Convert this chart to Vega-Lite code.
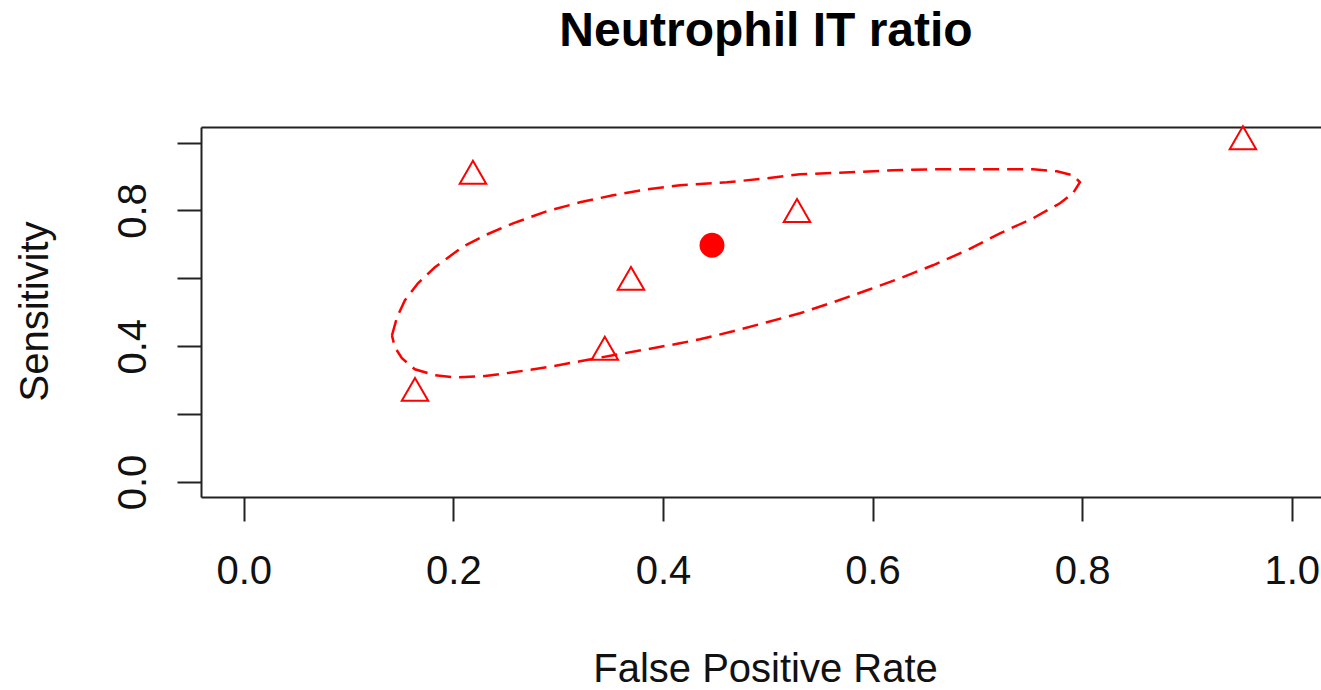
{
  "$schema": "https://vega.github.io/schema/vega-lite/v6.json",
  "width": 1120,
  "height": 370,
  "autosize": {"type": "none"},
  "padding": {"left": 201, "top": 127, "right": 0, "bottom": 193},
  "background": "white",
  "config": {
    "view": {"stroke": null},
    "font": "Liberation Sans",
    "axis": {"grid": false, "labelFont": "Liberation Sans", "titleFont": "Liberation Sans"}
  },
  "title": {
    "text": "Neutrophil IT ratio",
    "fontSize": 48,
    "fontWeight": "bold",
    "font": "Liberation Sans",
    "color": "#000000",
    "anchor": "middle",
    "frame": "group",
    "dx": 5,
    "baseline": "alphabetic",
    "offset": 28
  },
  "datasets": {
    "ellipse": [
      {"i": 1, "fpr": 0.1414, "sens": 0.4316},
      {"i": 2, "fpr": 0.1462, "sens": 0.4853},
      {"i": 3, "fpr": 0.1538, "sens": 0.5354},
      {"i": 4, "fpr": 0.1662, "sens": 0.5855},
      {"i": 5, "fpr": 0.1824, "sens": 0.6326},
      {"i": 6, "fpr": 0.2082, "sens": 0.6915},
      {"i": 7, "fpr": 0.2302, "sens": 0.7269},
      {"i": 8, "fpr": 0.2569, "sens": 0.7622},
      {"i": 9, "fpr": 0.2893, "sens": 0.7976},
      {"i": 10, "fpr": 0.3208, "sens": 0.8241},
      {"i": 11, "fpr": 0.3523, "sens": 0.8447},
      {"i": 12, "fpr": 0.3847, "sens": 0.8624},
      {"i": 13, "fpr": 0.4162, "sens": 0.8742},
      {"i": 14, "fpr": 0.4611, "sens": 0.883},
      {"i": 15, "fpr": 0.4992, "sens": 0.8948},
      {"i": 16, "fpr": 0.5307, "sens": 0.9066},
      {"i": 17, "fpr": 0.5784, "sens": 0.9125},
      {"i": 18, "fpr": 0.6195, "sens": 0.9184},
      {"i": 19, "fpr": 0.6576, "sens": 0.9213},
      {"i": 20, "fpr": 0.7053, "sens": 0.9213},
      {"i": 21, "fpr": 0.7531, "sens": 0.9213},
      {"i": 22, "fpr": 0.776, "sens": 0.9154},
      {"i": 23, "fpr": 0.7912, "sens": 0.9037},
      {"i": 24, "fpr": 0.7979, "sens": 0.883},
      {"i": 25, "fpr": 0.7912, "sens": 0.8506},
      {"i": 26, "fpr": 0.7788, "sens": 0.8212},
      {"i": 27, "fpr": 0.7531, "sens": 0.777},
      {"i": 28, "fpr": 0.7216, "sens": 0.7328},
      {"i": 29, "fpr": 0.6901, "sens": 0.6827},
      {"i": 30, "fpr": 0.6576, "sens": 0.6385},
      {"i": 31, "fpr": 0.6261, "sens": 0.6002},
      {"i": 32, "fpr": 0.5947, "sens": 0.5648},
      {"i": 33, "fpr": 0.5622, "sens": 0.5294},
      {"i": 34, "fpr": 0.5307, "sens": 0.4971},
      {"i": 35, "fpr": 0.4992, "sens": 0.4706},
      {"i": 36, "fpr": 0.4668, "sens": 0.444},
      {"i": 37, "fpr": 0.4353, "sens": 0.4205},
      {"i": 38, "fpr": 0.4162, "sens": 0.4087},
      {"i": 39, "fpr": 0.3847, "sens": 0.391},
      {"i": 40, "fpr": 0.3523, "sens": 0.3733},
      {"i": 41, "fpr": 0.3208, "sens": 0.3556},
      {"i": 42, "fpr": 0.2893, "sens": 0.338},
      {"i": 43, "fpr": 0.2569, "sens": 0.3232},
      {"i": 44, "fpr": 0.2283, "sens": 0.3114},
      {"i": 45, "fpr": 0.2015, "sens": 0.3085},
      {"i": 46, "fpr": 0.1824, "sens": 0.3144},
      {"i": 47, "fpr": 0.1633, "sens": 0.3321},
      {"i": 48, "fpr": 0.1509, "sens": 0.3645},
      {"i": 49, "fpr": 0.1442, "sens": 0.3969},
      {"i": 50, "fpr": 0.1414, "sens": 0.4316}
    ],
    "studies": [
      {"fpr": 0.1634, "sens": 0.273},
      {"fpr": 0.2187, "sens": 0.9125},
      {"fpr": 0.3695, "sens": 0.6},
      {"fpr": 0.3445, "sens": 0.394},
      {"fpr": 0.5279, "sens": 0.8},
      {"fpr": 0.9534, "sens": 1.014}
    ],
    "summary": [
      {"fpr": 0.4468, "sens": 0.6974}
    ]
  },
  "layer": [
    {
      "data": {"name": "ellipse"},
      "mark": {"type": "line", "color": "#ff0000", "strokeWidth": 2.5, "strokeDash": [16, 8]},
      "encoding": {
        "x": {
          "field": "fpr", "type": "quantitative",
          "scale": {"domain": [-0.0408, 1.0279], "nice": false, "zero": false},
          "axis": {
            "orient": "bottom",
            "values": [0, 0.2, 0.4, 0.6, 0.8, 1.0],
            "format": ".1f",
            "domain": true, "domainColor": "#222222", "domainWidth": 2,
            "ticks": true, "tickSize": 24, "tickWidth": 2, "tickColor": "#222222",
            "labelFontSize": 40, "labelColor": "#111111",
            "labelBaseline": "alphabetic", "labelPadding": 62,
            "title": "False Positive Rate",
            "titleFontSize": 40, "titleFontWeight": "normal", "titleColor": "#111111",
            "titleBaseline": "alphabetic", "titleAlign": "center",
            "titleX": 564, "titleY": 184
          }
        },
        "y": {
          "field": "sens", "type": "quantitative",
          "scale": {"domain": [-0.0442, 1.0459], "nice": false, "zero": false},
          "axis": {
            "orient": "left",
            "values": [0, 0.2, 0.4, 0.6, 0.8, 1.0],
            "format": ".1f",
            "labelExpr": "(round(datum.value * 10) % 4 == 0) ? datum.label : ''",
            "domain": true, "domainColor": "#222222", "domainWidth": 2,
            "ticks": true, "tickSize": 24, "tickWidth": 2, "tickColor": "#222222",
            "labelFontSize": 40, "labelColor": "#111111",
            "labelAngle": -90, "labelAlign": "center", "labelBaseline": "alphabetic",
            "labelPadding": 32,
            "title": "Sensitivity",
            "titleFontSize": 40, "titleFontWeight": "normal", "titleColor": "#111111",
            "titleAngle": -90, "titleBaseline": "alphabetic", "titleAlign": "center",
            "titleX": -154, "titleY": 184
          }
        },
        "order": {"field": "i", "type": "quantitative"}
      }
    },
    {
      "data": {"name": "studies"},
      "mark": {"type": "point", "shape": "triangle-up", "filled": false, "color": "#ff0000", "strokeWidth": 2, "size": 700, "opacity": 1},
      "encoding": {
        "x": {"field": "fpr", "type": "quantitative", "axis": {"orient": "top", "domain": true, "domainColor": "#222222", "domainWidth": 2, "ticks": false, "labels": false, "title": null}},
        "y": {"field": "sens", "type": "quantitative"}
      }
    },
    {
      "data": {"name": "summary"},
      "mark": {"type": "circle", "color": "#ff0000", "size": 620, "opacity": 1},
      "encoding": {
        "x": {"field": "fpr", "type": "quantitative", "axis": null},
        "y": {"field": "sens", "type": "quantitative"}
      }
    }
  ],
  "resolve": {"axis": {"x": "independent"}}
}
